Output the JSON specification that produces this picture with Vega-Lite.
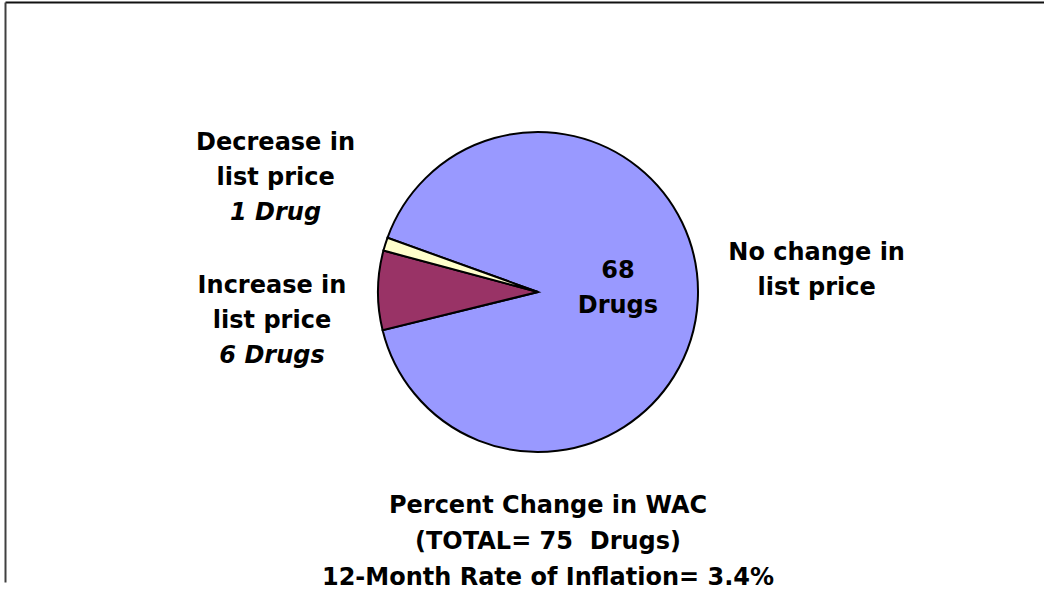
{
  "$schema": "https://vega.github.io/schema/vega-lite/v6.json",
  "width": 1066,
  "height": 580,
  "padding": {"left": 5, "top": 2, "right": -27, "bottom": 0},
  "background": "white",
  "title": {
    "text": ["Percent Change in WAC", "(TOTAL= 75\u00a0 Drugs)", "12-Month Rate of Inflation= 3.4%"],
    "orient": "bottom",
    "anchor": "middle",
    "baseline": "top",
    "offset": -93,
    "dx": 10,
    "font": "DejaVu Sans",
    "fontSize": 24,
    "fontWeight": "bold",
    "lineHeight": 36,
    "color": "black"
  },
  "data": {
    "values": [
      {"category": "No change", "drugs": 68, "label": "No change in\nlist price", "count": "68\nDrugs"},
      {"category": "Increase", "drugs": 6, "label": "Increase in\nlist price", "count": "6 Drugs"},
      {"category": "Decrease", "drugs": 1, "label": "Decrease in\nlist price", "count": "1 Drug"}
    ]
  },
  "encoding": {
    "theta": {"field": "drugs", "type": "quantitative", "stack": true, "scale": {"range": [-1.2252, 5.058]}},
    "order": {"field": "drugs", "sort": "descending"}
  },
  "layer": [
    {
      "mark": {"type": "text", "text": ""},
      "encoding": {
        "theta": null,
        "order": null,
        "x": {"datum": 0, "type": "quantitative", "scale": {"domain": [0, 1]},
          "axis": {"orient": "top", "domainColor": "#111", "domainWidth": 2, "ticks": false, "labels": false, "grid": false, "title": null}},
        "y": {"datum": 0, "type": "quantitative", "scale": {"domain": [0, 1]},
          "axis": {"orient": "left", "domainColor": "#404040", "domainWidth": 2, "ticks": false, "labels": false, "grid": false, "title": null}}
      }
    },
    {
      "mark": {"type": "arc", "radius": 160, "stroke": "black", "strokeWidth": 2},
      "encoding": {
        "color": {
          "field": "category", "type": "nominal",
          "scale": {"domain": ["No change", "Increase", "Decrease"], "range": ["#9999FF", "#993366", "#FFFFCC"]},
          "legend": null
        }
      }
    },
    {
      "mark": {"type": "text", "radius": 80, "dy": -18, "font": "DejaVu Sans", "fontSize": 24, "fontWeight": "bold", "lineHeight": 35, "lineBreak": "\n", "align": "center", "baseline": "alphabetic", "color": "black"},
      "encoding": {"text": {"condition": {"test": "datum.category === 'No change'", "field": "count"}, "value": ""}}
    },
    {
      "mark": {"type": "text", "radius": 279, "dy": -47, "font": "DejaVu Sans", "fontSize": 24, "fontWeight": "bold", "lineHeight": 35, "lineBreak": "\n", "align": "center", "baseline": "alphabetic", "color": "black"},
      "encoding": {"text": {"condition": {"test": "datum.category === 'No change'", "field": "label"}, "value": ""}}
    },
    {
      "mark": {"type": "text", "radius": 275, "dy": -60, "font": "DejaVu Sans", "fontSize": 24, "fontWeight": "bold", "lineHeight": 35, "lineBreak": "\n", "align": "center", "baseline": "alphabetic", "color": "black"},
      "encoding": {"text": {"condition": {"test": "datum.category === 'Decrease'", "field": "label"}, "value": ""}}
    },
    {
      "mark": {"type": "text", "radius": 275, "dy": 10, "font": "DejaVu Sans", "fontSize": 24, "fontWeight": "bold", "fontStyle": "italic", "align": "center", "baseline": "alphabetic", "color": "black"},
      "encoding": {"text": {"condition": {"test": "datum.category === 'Decrease'", "field": "count"}, "value": ""}}
    },
    {
      "mark": {"type": "text", "radius": 266, "dy": 4, "font": "DejaVu Sans", "fontSize": 24, "fontWeight": "bold", "lineHeight": 35, "lineBreak": "\n", "align": "center", "baseline": "alphabetic", "color": "black"},
      "encoding": {"text": {"condition": {"test": "datum.category === 'Increase'", "field": "label"}, "value": ""}}
    },
    {
      "mark": {"type": "text", "radius": 266, "dy": 74, "font": "DejaVu Sans", "fontSize": 24, "fontWeight": "bold", "fontStyle": "italic", "align": "center", "baseline": "alphabetic", "color": "black"},
      "encoding": {"text": {"condition": {"test": "datum.category === 'Increase'", "field": "count"}, "value": ""}}
    }
  ],
  "config": {"view": {"stroke": null}}
}
